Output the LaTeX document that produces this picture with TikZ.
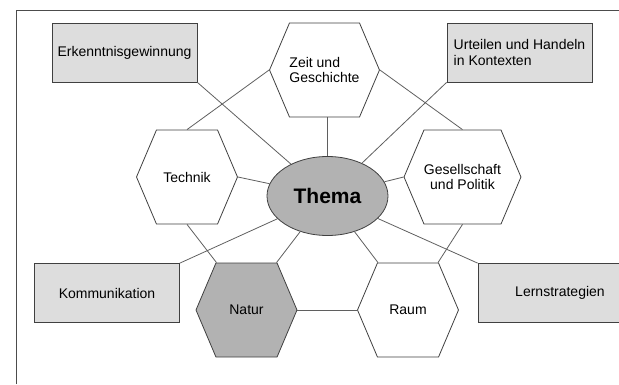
\documentclass[tikz,border=0pt]{standalone}
\usepackage{fontspec}
\setmainfont{Liberation Sans}
\usetikzlibrary{shapes,arrows,positioning}
\definecolor{boxgray}{RGB}{221,221,221}
\definecolor{hexgray}{RGB}{178,178,178}
\definecolor{edgegray}{RGB}{95,95,95}
\tikzstyle{field}    = [rectangle, draw=black!75, fill=boxgray, minimum width=145pt, minimum height=59pt, inner sep=0pt, align=left, font=\fontsize{14}{15.5}\selectfont]
\tikzstyle{hexa}     = [signal, signal to=west and east, signal pointer angle=134, draw=black!75, fill=white, minimum width=101pt, minimum height=94pt, inner sep=0pt, font=\fontsize{14}{15.5}\selectfont]
\tikzstyle{topic}    = [ellipse, draw=black!75, fill=hexgray, minimum width=121pt, minimum height=79pt, inner sep=0pt, font=\fontsize{21}{25}\selectfont\bfseries]
\tikzstyle{line}     = [draw, edgegray]

\begin{document}
\begin{tikzpicture}[node distance = 120pt, line width=0.8pt]

		% Frame %
		\useasboundingbox (-327.5pt,-188pt) rectangle (291.5pt,196pt);
		\draw [black!70] (-311.5pt,-188pt) -- (-311.5pt,186pt) -- (291.5pt,186pt);

		% Node Setting %

		% center =================================%
		\node [topic] (thema) {Thema};
		% hexagons ===============================%
		\node [hexa, above of = thema, xshift=-3pt, yshift=6pt, align=left] (zeit) {Zeit und\\Geschichte};
		\node [hexa, left of = thema, xshift=-20.5pt, yshift=19pt] (technik) {Technik};
		\node [hexa, right of = thema, xshift=15pt, yshift=19pt, align=center] (gesell) {Gesellschaft\\und Politik};
		\node [hexa, below of = thema, xshift=-81pt, yshift=6pt, fill=hexgray] (natur) {Natur};
		\node [hexa, below of = thema, xshift=80.5pt, yshift=6pt] (raum) {Raum};
		% fields =================================%
		\node [field, left of = zeit, xshift=-80pt, yshift=17.5pt] (erkennt) {Erkenntnisgewinnung};
		\node [field, right of = zeit, xshift=75pt, yshift=17.5pt] (urteil) {Urteilen und Handeln\\in Kontexten};
		\node [field, left of = natur, xshift=-19.5pt, yshift=17pt] (kommu) {Kommunikation};
		\node [field, right of = raum, xshift=32pt, yshift=17pt, minimum width=164pt] (lern) {Lernstrategien};
		%=========================================%

		% Connection %

		\path [line] (zeit.south -| thema.north) -- (thema.north);
		\path [line] (erkennt.south east) -- (thema);
		\path [line] (urteil.south west) -- (thema);
		\path [line] (zeit.west) -- (technik.north);
		\path [line] (zeit.east) -- (gesell.north);
		\path [line] (technik.east) -- (thema);
		\path [line] (gesell.west) -- (thema);
		\path [line] (technik.south) -- ([xshift=-30pt]natur.north);
		\path [line] (gesell.south) -- ([xshift=30pt]raum.north);
		\path [line] (kommu.north east) -- (thema);
		\path [line] (lern.north west) -- (thema);
		\path [line] ([xshift=30pt]natur.north) -- (thema);
		\path [line] ([xshift=-30pt]raum.north) -- (thema);
		\path [line] (natur.east) -- (raum.west);
	\end{tikzpicture}
\end{document}
